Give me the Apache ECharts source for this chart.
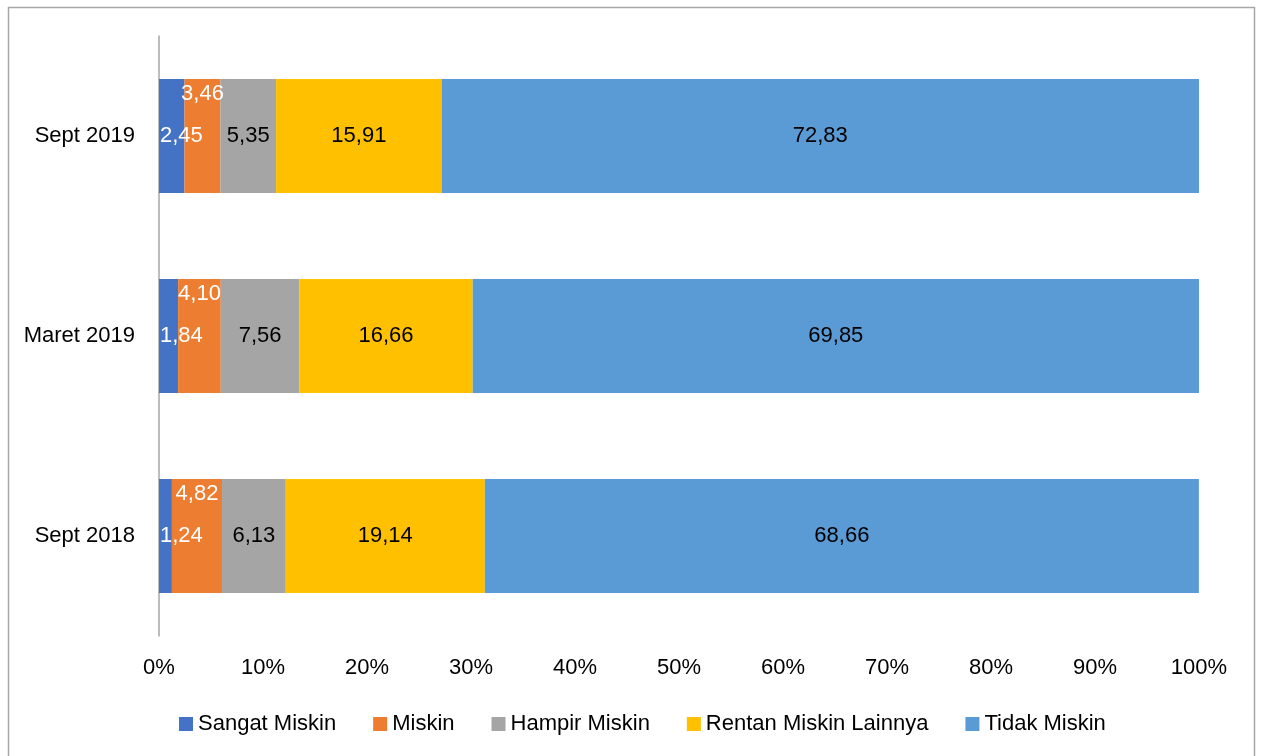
<!DOCTYPE html>
<html><head><meta charset="utf-8">
<script src="https://cdn.jsdelivr.net/npm/echarts@6/dist/echarts.min.js"></script>
<style>html,body{margin:0;padding:0;background:#fff}#c{width:1261px;height:756px}</style>
</head><body><div id="c"></div>
<script>
const categories = ['Sept 2018', 'Maret 2019', 'Sept 2019'];
const seriesNames = ['Sangat Miskin', 'Miskin', 'Hampir Miskin', 'Rentan Miskin Lainnya', 'Tidak Miskin'];
const sangatMiskin = [1.24, 1.84, 2.45];
const miskin = [4.82, 4.10, 3.46];
const hampirMiskin = [6.13, 7.56, 5.35];
const rentanMiskin = [19.14, 16.66, 15.91];
const tidakMiskin = [68.66, 69.85, 72.83];
const xTicks = [0, 10, 20, 30, 40, 50, 60, 70, 80, 90, 100];

const colors = ['#4472C4', '#ED7D31', '#A5A5A5', '#FFC000', '#5B9BD5'];
const FONT = '"Liberation Sans", Arial, sans-serif';
const FS = 22;
const fmt = p => p.value.toFixed(2).replace('.', ',');
const values = [sangatMiskin, miskin, hampirMiskin, rentanMiskin, tidakMiskin];
const labelCfg = [
  {position: 'insideLeft', distance: 1, color: '#fff'},
  {position: 'insideTop', distance: 4, color: '#fff'},
  {position: 'inside', color: '#000'},
  {position: 'inside', color: '#000'},
  {position: 'inside', color: '#000'}
];

const chart = echarts.init(document.getElementById('c'), null, {renderer: 'canvas'});
chart.setOption({
  backgroundColor: '#fff',
  animation: false,
  color: colors,
  textStyle: {fontFamily: FONT},
  graphic: [
    {type: 'rect', shape: {x: 8.5, y: 7.5, width: 1246, height: 760}, style: {fill: 'none', stroke: '#a6a6a6', lineWidth: 1.5}, z: -5}
  ],
  grid: {left: 159, right: 62, top: 36, bottom: 120, containLabel: false},
  legend: {
    data: seriesNames,
    left: 174, top: 708,
    itemWidth: 14, itemHeight: 14, itemGap: 37,
    icon: 'rect',
    textStyle: {fontFamily: FONT, fontSize: FS, color: '#000'}
  },
  xAxis: {
    type: 'value', min: 0, max: 100, interval: 10,
    axisLine: {show: false}, axisTick: {show: false}, splitLine: {show: false},
    axisLabel: {formatter: v => xTicks.includes(v) ? v + '%' : '', fontFamily: FONT, fontSize: FS, color: '#000', margin: 21}
  },
  yAxis: {
    type: 'category', data: categories,
    axisLine: {show: true, lineStyle: {color: '#a6a6a6', width: 1.5}},
    axisTick: {show: false},
    axisLabel: {fontFamily: FONT, fontSize: FS, color: '#000', margin: 24}
  },
  series: seriesNames.map((name, i) => ({
    name, type: 'bar', stack: 'total', data: values[i], barWidth: 114,
    itemStyle: {color: colors[i]},
    label: Object.assign({show: true, formatter: fmt, fontFamily: FONT, fontSize: FS}, labelCfg[i])
  }))
});
</script></body></html>
